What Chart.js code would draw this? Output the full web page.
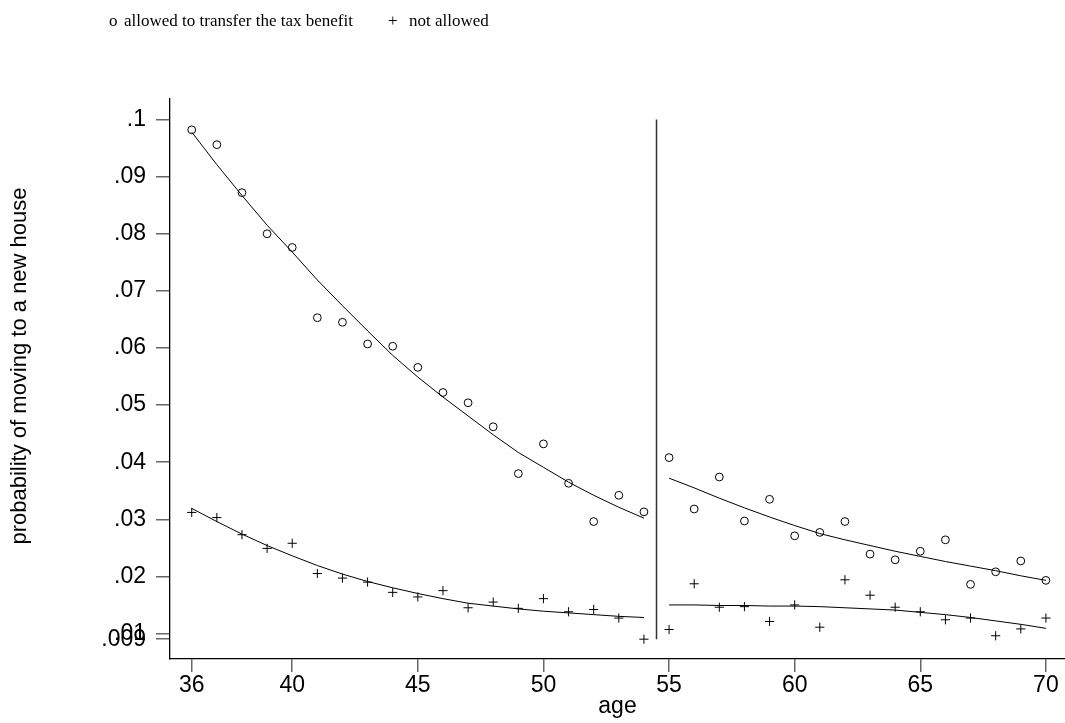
<!DOCTYPE html>
<html>
<head>
<meta charset="utf-8">
<script src="https://cdn.jsdelivr.net/npm/chart.js@4.4.1/dist/chart.umd.min.js"></script>
<style>
  html, body { margin: 0; padding: 0; background: #fff; }
  #graphCanvas { display: block; }
</style>
</head>
<body>
<canvas id="graphCanvas" width="1065" height="723"></canvas>
<script>
// ages before and after the cut-off
var ageLeft = [36, 37, 38, 39, 40, 41, 42, 43, 44, 45, 46, 47, 48, 49, 50, 51, 52, 53, 54];
var ageRight = [55, 56, 57, 58, 59, 60, 61, 62, 63, 64, 65, 66, 67, 68, 69, 70];

// observed probabilities
var allowedLeft = [.0982, .0956, .0872, .0800, .0776, .0653, .0645, .0607, .0603, .0566, .0522, .0504, .0462, .0380, .0432, .0363, .0296, .0342, .0313];
var allowedRight = [.0408, .0318, .0374, .0297, .0335, .0271, .0277, .0296, .0239, .0229, .0244, .0264, .0186, .0208, .0227, .0193];
var notAllowedLeft = [.0312, .0303, .0273, .0249, .0258, .0205, .0197, .0190, .0172, .0164, .0175, .0145, .0155, .0144, .0161, .0138, .0142, .0127, .0090];
var notAllowedRight = [.0107, .0187, .0146, .0147, .0121, .0150, .0111, .0194, .0167, .0146, .0138, .0124, .0127, .0096, .0108, .0127];

// fitted curves
var fitAllowedLeft = [.0978, .0921, .0867, .0815, .0768, .0719, .0674, .0630, .0587, .0549, .0514, .0481, .0448, .0417, .0391, .0365, .0342, .0321, .0302];
var fitAllowedRight = [.0372, .0355, .0337, .0320, .0304, .0289, .0275, .0264, .0254, .0244, .0235, .0226, .0218, .0210, .0201, .0193];
var fitNotLeft = [.0319, .0296, .0274, .0254, .0236, .0219, .0204, .0191, .0180, .0170, .0161, .0153, .0148, .0143, .0139, .0136, .0133, .0130, .0128];
var fitNotRight = [.0150, .0150, .0149, .0149, .0148, .0148, .0147, .0145, .0143, .0141, .0137, .0133, .0128, .0122, .0116, .0109];

// vertical line at the cut-off
var cutAge = [54.5, 54.5];
var cutProb = [.009, .1];

var xTicks = [36, 40, 45, 50, 55, 60, 65, 70];
var yTicks = [.009, .01, .02, .03, .04, .05, .06, .07, .08, .09, .1];
var yTickLabels = ['.009', '.01', '.02', '.03', '.04', '.05', '.06', '.07', '.08', '.09', '.1'];

var sansFont = '"Liberation Sans", Arial, sans-serif';
var serifFont = '"Liberation Serif", "Times New Roman", serif';

// plot frame in canvas pixels
var AREA = { left: 170, top: 99, right: 1065, bottom: 659 };

function puntos(xs, ys){
    var res = [];
    for (var i = 0; i < xs.length; i++) {
        res.push({x: xs[i], y: ys[i]});
    }
    return res;
}

function curva(xs, ys, color, width){
    return {
        data: puntos(xs, ys),
        showLine: true,
        borderColor: color,
        borderWidth: width,
        pointRadius: 0,
        fill: false,
        tension: 0
    };
}

function marcas(xs, ys, estilo, radio){
    return {
        data: puntos(xs, ys),
        showLine: false,
        pointStyle: estilo,
        pointRadius: radio,
        pointBorderColor: '#000',
        pointBackgroundColor: 'rgba(0,0,0,0)',
        pointBorderWidth: 1
    };
}

// pin the plot frame so the axes land where they should
var marco = {
    id: 'marco',
    afterLayout: function(chart){
        var ca = chart.chartArea;
        ca.left = AREA.left; ca.right = AREA.right;
        ca.top = AREA.top; ca.bottom = AREA.bottom;
        ca.width = ca.right - ca.left; ca.height = ca.bottom - ca.top;
        var sx = chart.scales.x, sy = chart.scales.y;
        sx.left = AREA.left; sx.right = AREA.right; sx.width = sx.right - sx.left;
        sx.top = AREA.bottom; sx.bottom = chart.height; sx.height = sx.bottom - sx.top;
        sy.top = AREA.top; sy.bottom = AREA.bottom; sy.height = sy.bottom - sy.top;
        sy.left = 0; sy.right = AREA.left; sy.width = AREA.left;
        sx.configure();
        sy.configure();
    }
};

// key text at the top and the rotated y title
var textos = {
    id: 'textos',
    afterDraw: function(chart){
        var ctx = chart.ctx;
        ctx.save();
        ctx.fillStyle = '#000';
        ctx.textBaseline = 'alphabetic';
        ctx.font = '17px ' + serifFont;
        ctx.fillText('o', 109, 26);
        ctx.fillText('allowed to transfer the tax benefit', 124, 26);
        ctx.fillText('+', 388, 26);
        ctx.fillText('not allowed', 409, 26);
        ctx.restore();

        ctx.save();
        ctx.fillStyle = '#000';
        ctx.font = '22px ' + sansFont;
        ctx.textAlign = 'center';
        ctx.textBaseline = 'middle';
        ctx.translate(20, 366);
        ctx.rotate(-Math.PI / 2);
        ctx.fillText('probability of moving to a new house', 0, 0);
        ctx.restore();
    }
};

var chartdata = {
    datasets: [
        curva(cutAge, cutProb, '#333', 1.5),
        curva(ageLeft, fitAllowedLeft, '#000', 1),
        curva(ageRight, fitAllowedRight, '#000', 1),
        curva(ageLeft, fitNotLeft, '#000', 1),
        curva(ageRight, fitNotRight, '#000', 1),
        marcas(ageLeft, allowedLeft, 'circle', 3.9),
        marcas(ageRight, allowedRight, 'circle', 3.9),
        marcas(ageLeft, notAllowedLeft, 'cross', 4.6),
        marcas(ageRight, notAllowedRight, 'cross', 4.6)
    ]
};

window.grafica = new Chart(document.getElementById('graphCanvas'), {
    type: 'scatter',
    data: chartdata,
    plugins: [marco, textos],
    options: {
        responsive: false,
        animation: false,
        devicePixelRatio: 1,
        layout: { padding: { top: 99, left: 0, right: 0, bottom: 0 } },
        plugins: {
            legend: { display: false },
            tooltip: { enabled: false }
        },
        scales: {
            x: {
                type: 'linear',
                min: 35.135,
                max: 70.76,
                afterBuildTicks: function(scale){
                    scale.ticks = xTicks.map(function(v){ return {value: v}; });
                },
                afterFit: function(scale){ scale.height = 64; },
                grid: { drawOnChartArea: false, drawTicks: true, tickLength: 13, color: '#666', lineWidth: 1.5 },
                border: { display: true, color: '#000', width: 1.3 },
                ticks: {
                    autoSkip: false,
                    maxRotation: 0,
                    padding: 0,
                    color: '#000',
                    font: { family: sansFont, size: 23 },
                    callback: function(v){ return String(v); }
                },
                title: {
                    display: true,
                    text: 'age',
                    color: '#000',
                    font: { family: sansFont, size: 23 },
                    padding: { top: 0, bottom: 3 }
                }
            },
            y: {
                type: 'linear',
                min: .00553,
                max: .1036,
                afterBuildTicks: function(scale){
                    scale.ticks = yTicks.map(function(v){ return {value: v}; });
                },
                afterFit: function(scale){ scale.width = 170; },
                grid: { drawOnChartArea: false, drawTicks: true, tickLength: 14, color: '#666', lineWidth: 1.5 },
                border: { display: true, color: '#000', width: 1.3 },
                ticks: {
                    autoSkip: false,
                    padding: 10,
                    color: '#000',
                    font: { family: sansFont, size: 23 },
                    callback: function(v, i){ return yTickLabels[i]; }
                }
            }
        }
    }
});
</script>
</body>
</html>
